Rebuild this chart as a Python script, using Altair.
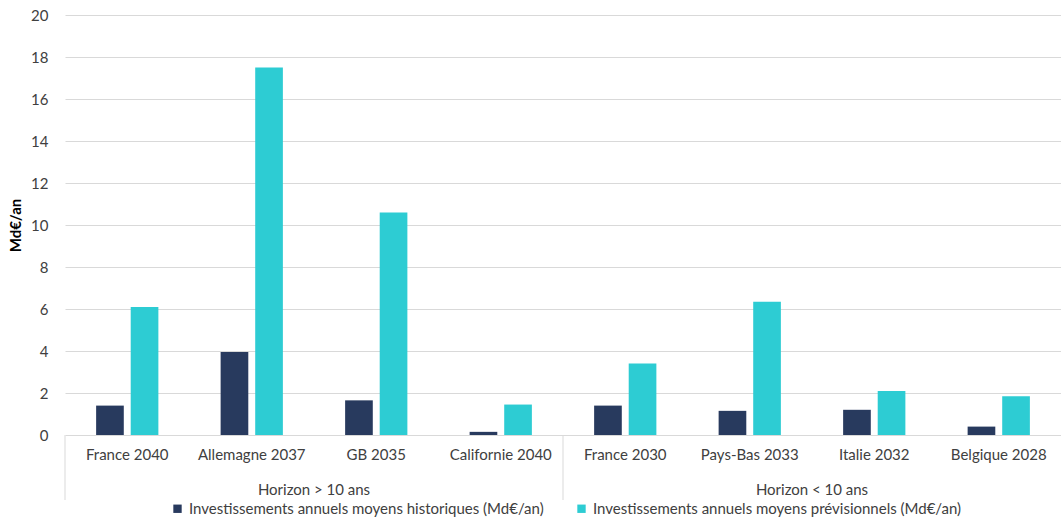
import altair as alt
import pandas as pd

categories = ["France 2040", "Allemagne 2037", "GB 2035", "Californie 2040",
              "France 2030", "Pays-Bas 2033", "Italie 2032", "Belgique 2028"]
hist = [1.4, 3.95, 1.65, 0.15, 1.4, 1.15, 1.2, 0.4]
prev = [6.1, 17.5, 10.6, 1.45, 3.4, 6.35, 2.1, 1.85]
series_names = ["Investissements annuels moyens historiques  (Md€/an)",
                "Investissements annuels moyens prévisionnels (Md€/an)"]
colors = ["#283A5E", "#2DCCD3"]
group_labels = ["Horizon > 10 ans", "Horizon < 10 ans"]

rows = []
for c, h, p in zip(categories, hist, prev):
    rows.append({"cat": c, "serie": series_names[0], "val": h})
    rows.append({"cat": c, "serie": series_names[1], "val": p})
df = pd.DataFrame(rows)

grp_df = pd.DataFrame({"grp": group_labels})

FONT = "Lato"
FS = 15
W, H = 996, 420
GRID = "#D9D9D9"
TXT = "#404040"

xscale = alt.Scale(domain=categories, paddingInner=0.5, paddingOuter=0.25)
gscale = alt.Scale(domain=group_labels, paddingInner=0, paddingOuter=0)

bars = alt.Chart(df).mark_bar().encode(
    x=alt.X("cat:N", scale=xscale, sort=categories,
            axis=alt.Axis(title=None, labelAngle=0, ticks=False, domain=False,
                          grid=False, labelPadding=12, labelFontSize=FS,
                          labelColor=TXT, labelFont=FONT)),
    xOffset=alt.XOffset("serie:N", sort=series_names,
                        scale=alt.Scale(domain=series_names, paddingInner=0.2)),
    y=alt.Y("val:Q", scale=alt.Scale(domain=[0, 20], nice=False),
            axis=alt.Axis(values=list(range(0, 21, 2)), title="Md€/an",
                          domain=False, ticks=False, grid=True, gridColor=GRID,
                          gridWidth=1, labelPadding=17, labelFontSize=FS,
                          labelColor=TXT, labelFont=FONT, titleFont=FONT,
                          titleFontSize=FS, titleFontWeight="bold",
                          titleColor="#000000", titlePadding=7)),
    color=alt.Color("serie:N",
                    scale=alt.Scale(domain=series_names, range=colors),
                    legend=alt.Legend(title=None, orient="none", direction="horizontal",
                                      legendX=105, legendY=486, symbolType="square",
                                      symbolSize=70, symbolStrokeWidth=0,
                                      labelFontSize=FS, labelFont=FONT, labelColor=TXT,
                                      labelLimit=600, columnPadding=26, labelOffset=4,
                                      padding=0)),
)

group_text = alt.Chart(grp_df).mark_text(fontSize=FS, font=FONT, color=TXT,
                                         baseline="middle", align="center").encode(
    x=alt.X("grp:N", scale=gscale, sort=group_labels, axis=None),
    y=alt.value(H + 55),
    text="grp:N",
)

seps = alt.Chart(grp_df).mark_rule(color=GRID, strokeWidth=1).encode(
    x=alt.X("grp:N", scale=gscale, sort=group_labels, bandPosition=0, axis=None),
    y=alt.value(H),
    y2=alt.value(H + 65),
)

chart = alt.layer(bars, alt.layer(seps, group_text)).resolve_scale(
    x="independent"
).properties(
    width=W, height=H,
    autosize=alt.AutoSizeParams(type="none"),
    padding={"left": 65, "top": 15, "right": 0, "bottom": 84},
    background="white",
).configure_view(stroke=None)

chart.save("out.html", embed_options={"renderer": "svg", "actions": False})
